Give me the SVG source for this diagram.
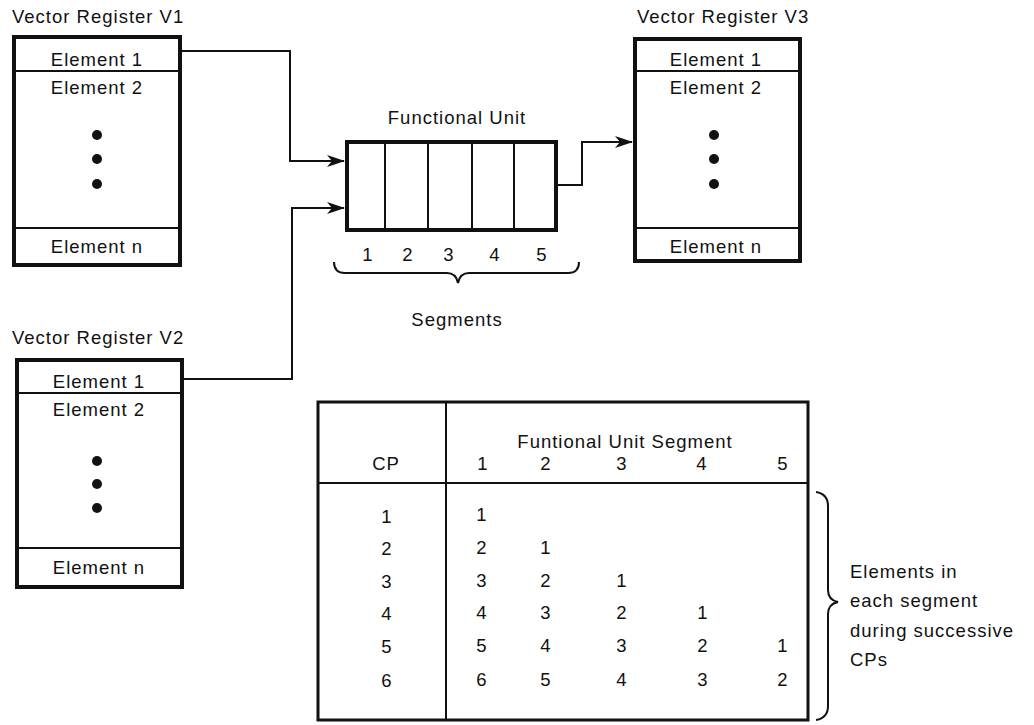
<svg xmlns="http://www.w3.org/2000/svg" width="1034" height="725" viewBox="0 0 1034 725">
<defs>
<marker id="arr" markerWidth="18" markerHeight="12" refX="17" refY="6" orient="auto" markerUnits="userSpaceOnUse">
<path d="M0,0 L18,6 L0,12 L5,6 Z" fill="#111"/>
</marker>
<style>
text{font-family:"Liberation Sans",Arial,sans-serif;fill:#111;font-size:18.5px;letter-spacing:1px}
.c{text-anchor:middle}
.box{fill:#fff;stroke:#111;stroke-width:4}
.div{stroke:#111;stroke-width:2}
.wire{fill:none;stroke:#111;stroke-width:2}
.br{fill:none;stroke:#111;stroke-width:2}
</style>
</defs>
<rect width="1034" height="725" fill="#fff"/>

<g id="v1">
<text x="12" y="23">Vector Register V1</text>
<rect class="box" x="14" y="37" width="166" height="228"/>
<line class="div" x1="14" y1="71" x2="180" y2="71"/>
<line class="div" x1="14" y1="228" x2="180" y2="228"/>
<text class="c" x="97" y="66">Element 1</text>
<text class="c" x="97" y="94">Element 2</text>
<circle cx="97" cy="135" r="5" fill="#111"/>
<circle cx="97" cy="159" r="5" fill="#111"/>
<circle cx="97" cy="184" r="5" fill="#111"/>
<text class="c" x="97" y="253">Element n</text>
</g>

<g id="v2">
<text x="12" y="344">Vector Register V2</text>
<rect class="box" x="17" y="360" width="165" height="227"/>
<line class="div" x1="17" y1="393" x2="182" y2="393"/>
<line class="div" x1="17" y1="548" x2="182" y2="548"/>
<text class="c" x="99" y="388">Element 1</text>
<text class="c" x="99" y="416">Element 2</text>
<circle cx="97" cy="461" r="5" fill="#111"/>
<circle cx="97" cy="484" r="5" fill="#111"/>
<circle cx="97" cy="508" r="5" fill="#111"/>
<text class="c" x="99" y="574">Element n</text>
</g>

<g id="v3">
<text x="637" y="23">Vector Register V3</text>
<rect class="box" x="635" y="39" width="165" height="222"/>
<line class="div" x1="635" y1="71" x2="800" y2="71"/>
<line class="div" x1="635" y1="228" x2="800" y2="228"/>
<text class="c" x="716" y="66">Element 1</text>
<text class="c" x="716" y="94">Element 2</text>
<circle cx="714" cy="135" r="5" fill="#111"/>
<circle cx="714" cy="159" r="5" fill="#111"/>
<circle cx="714" cy="184" r="5" fill="#111"/>
<text class="c" x="716" y="253">Element n</text>
</g>

<g id="fu">
<text class="c" x="457" y="124">Functional Unit</text>
<rect class="box" x="347" y="142" width="209" height="88"/>
<line class="div" x1="385" y1="142" x2="385" y2="230" stroke-width="2.5"/>
<line class="div" x1="428" y1="142" x2="428" y2="230" stroke-width="2.5"/>
<line class="div" x1="472" y1="142" x2="472" y2="230" stroke-width="2.5"/>
<line class="div" x1="514" y1="142" x2="514" y2="230" stroke-width="2.5"/>
<text class="c" x="368" y="261">1</text>
<text class="c" x="408" y="261">2</text>
<text class="c" x="449" y="261">3</text>
<text class="c" x="495" y="261">4</text>
<text class="c" x="542" y="261">5</text>
<path class="br" d="M334,262 Q334,273 345,273 L447,273 Q456,273 458,283 Q460,273 469,273 L568,273 Q579,273 579,262"/>
<text class="c" x="457" y="326">Segments</text>
</g>

<g id="connectors">
<path class="wire" d="M182,51 L290,51 L290,161 L344,161" marker-end="url(#arr)"/>
<path class="wire" d="M184,379 L292,379 L292,208 L344,208" marker-end="url(#arr)"/>
<path class="wire" d="M558,185 L582,185 L582,142 L632,142" marker-end="url(#arr)"/>
</g>

<g id="table">
<rect x="318" y="402" width="490" height="318" fill="#fff" stroke="#111" stroke-width="3"/>
<line x1="446" y1="402" x2="446" y2="720" stroke="#111" stroke-width="2"/>
<line x1="318" y1="483" x2="808" y2="483" stroke="#111" stroke-width="2"/>
<text class="c" x="625" y="448">Funtional Unit Segment</text>
<text class="c" x="386" y="470">CP</text>
<text class="c" x="483" y="470">1</text>
<text class="c" x="546" y="470">2</text>
<text class="c" x="622" y="470">3</text>
<text class="c" x="702" y="470">4</text>
<text class="c" x="783" y="470">5</text>
<g class="c">
<text class="c" x="387" y="523">1</text>
<text class="c" x="387" y="555">2</text>
<text class="c" x="387" y="588">3</text>
<text class="c" x="387" y="620">4</text>
<text class="c" x="387" y="653">5</text>
<text class="c" x="387" y="687">6</text>

<text class="c" x="482" y="521">1</text>
<text class="c" x="482" y="554">2</text>
<text class="c" x="482" y="587">3</text>
<text class="c" x="482" y="619">4</text>
<text class="c" x="482" y="652">5</text>
<text class="c" x="482" y="686">6</text>

<text class="c" x="546" y="554">1</text>
<text class="c" x="546" y="587">2</text>
<text class="c" x="546" y="619">3</text>
<text class="c" x="546" y="652">4</text>
<text class="c" x="546" y="686">5</text>

<text class="c" x="622" y="587">1</text>
<text class="c" x="622" y="619">2</text>
<text class="c" x="622" y="652">3</text>
<text class="c" x="622" y="686">4</text>

<text class="c" x="703" y="619">1</text>
<text class="c" x="703" y="652">2</text>
<text class="c" x="703" y="686">3</text>

<text class="c" x="783" y="652">1</text>
<text class="c" x="783" y="686">2</text>
</g>
</g>

<g id="note">
<path class="br" d="M816,492 Q828,494 828,506 L828,590 Q828,600 838,602 Q828,604 828,614 L828,706 Q828,718 816,720"/>
<text x="850" y="578">Elements in</text>
<text x="850" y="607">each segment</text>
<text x="850" y="637">during successive</text>
<text x="850" y="666">CPs</text>
</g>
</svg>
